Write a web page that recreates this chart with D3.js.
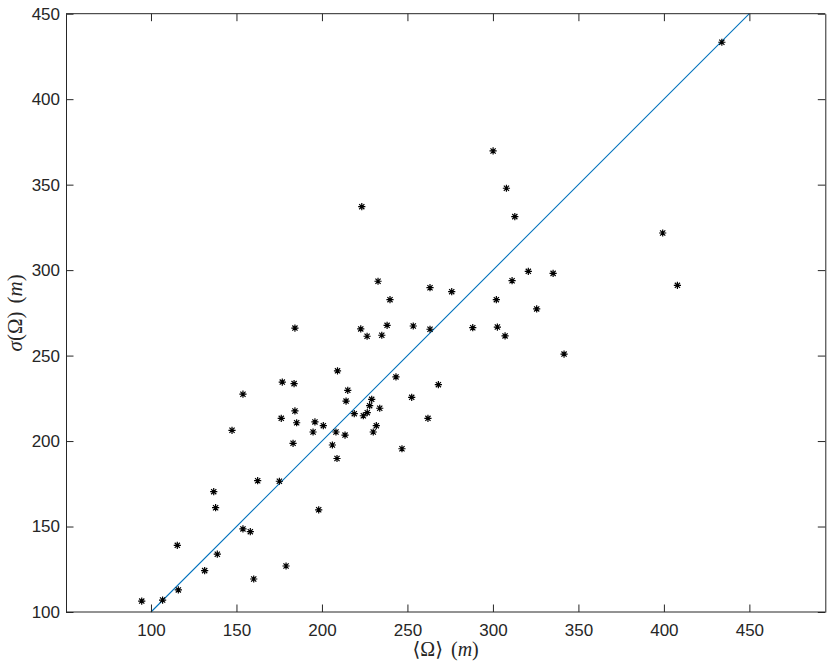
<!DOCTYPE html>
<html>
<head>
<meta charset="utf-8">
<script src="https://cdn.jsdelivr.net/npm/d3@7"></script>
<style>
  html, body { margin: 0; padding: 0; background: #fff; }
  svg { display: block; }
</style>
</head>
<body>
<svg id="chart" width="830" height="662"></svg>
<script>
// ---- data ----
const meanOmega = [
  94.6, 106.8, 116.0, 115.4, 131.4, 138.8, 136.7, 137.8, 153.8, 158.1,
  160.1, 162.4, 175.1, 179.0, 153.8, 147.4, 176.8, 183.7, 184.2, 176.2,
  185.2, 195.9, 200.8, 194.8, 208.2, 183.1, 206.1, 208.8, 198.1, 209.1,
  223.3, 232.8, 239.8, 184.2, 222.7, 238.1, 226.4, 235.0, 243.3, 300.1,
  307.9, 312.8, 320.7, 335.2, 311.2, 263.2, 275.9, 302.0, 325.6, 253.4,
  263.2, 288.2, 302.6, 307.1, 215.1, 214.1, 213.5, 218.9, 224.2, 226.5,
  227.9, 229.1, 233.8, 231.8, 230.0, 252.5, 268.1, 262.0, 246.8, 341.6,
  399.3, 407.9, 433.9
];
const sigmaOmega = [
  106.4, 107.0, 112.9, 139.0, 124.2, 133.8, 170.4, 161.0, 148.6, 147.0,
  119.3, 176.8, 176.5, 126.9, 227.4, 206.3, 234.5, 233.6, 217.6, 213.3,
  210.7, 211.2, 209.0, 205.3, 205.3, 198.7, 197.7, 189.8, 159.8, 241.1,
  337.1, 293.5, 282.7, 266.1, 265.6, 267.7, 261.3, 261.9, 237.5, 369.7,
  347.9, 331.3, 299.3, 298.1, 293.8, 289.7, 287.4, 282.7, 277.3, 267.3,
  265.4, 266.3, 266.7, 261.5, 229.7, 223.4, 203.5, 216.0, 214.8, 216.6,
  220.7, 224.4, 219.2, 209.0, 205.3, 225.6, 233.0, 213.3, 195.5, 250.9,
  321.7, 291.1, 433.3
];
const identityLine = [100, 450];
const xTicks = [100, 150, 200, 250, 300, 350, 400, 450];
const yTicks = [100, 150, 200, 250, 300, 350, 400, 450];
const xDomain = [50.3, 494.4];
const yDomain = [100, 450];

// ---- layout ----
const mLeft = 66, mRight = 825.3, mTop = 13.7, mBottom = 612;
const axisColor = "#262626";
const svg = d3.select("#chart");

const x = d3.scaleLinear().domain(xDomain).range([mLeft, mRight]);
const y = d3.scaleLinear().domain(yDomain).range([mBottom, mTop]);

// identity line
svg.append("line")
  .attr("x1", x(identityLine[0])).attr("y1", y(identityLine[0]))
  .attr("x2", x(identityLine[1])).attr("y2", y(identityLine[1]))
  .attr("stroke", "#0072BD").attr("stroke-width", 1.1);

// asterisk markers
const r = 3.6, d = r * 0.72;
const starPath = `M${-r},0L${r},0M0,${-r}L0,${r}M${-d},${-d}L${d},${d}M${-d},${d}L${d},${-d}`;
svg.append("g").selectAll("path")
  .data(meanOmega.map((v, i) => [v, sigmaOmega[i]]))
  .join("path")
  .attr("transform", p => `translate(${x(p[0])},${y(p[1])})`)
  .attr("d", starPath)
  .attr("stroke", "#000").attr("stroke-width", 1.2).attr("fill", "none");

// axes (ticks inward, box on)
const tickLen = 7.5;
const fontTicks = "'Liberation Sans', Arial, Helvetica, sans-serif";

const xAxisB = d3.axisBottom(x).tickValues(xTicks).tickSizeInner(-tickLen).tickSizeOuter(0).tickPadding(12);
const gxB = svg.append("g").attr("transform", `translate(0,${mBottom})`).call(xAxisB);
const xAxisT = d3.axisTop(x).tickValues(xTicks).tickSizeInner(-tickLen).tickSizeOuter(0).tickFormat("");
const gxT = svg.append("g").attr("transform", `translate(0,${mTop})`).call(xAxisT);
const yAxisL = d3.axisLeft(y).tickValues(yTicks).tickSizeInner(-tickLen).tickSizeOuter(0).tickPadding(6);
const gyL = svg.append("g").attr("transform", `translate(${mLeft},0)`).call(yAxisL);
const yAxisR = d3.axisRight(y).tickValues(yTicks).tickSizeInner(-tickLen).tickSizeOuter(0).tickFormat("");
const gyR = svg.append("g").attr("transform", `translate(${mRight},0)`).call(yAxisR);

[gxB, gxT, gyL, gyR].forEach(g => {
  g.select(".domain").attr("stroke", axisColor).attr("stroke-width", 1);
  g.selectAll(".tick line").attr("stroke", axisColor).attr("stroke-width", 1);
  g.selectAll(".tick text").attr("fill", axisColor)
    .style("font-family", fontTicks).style("font-size", "17px");
});
gxB.select(".domain").attr("d", `M${mLeft},0H${mRight}`);
gxT.select(".domain").attr("d", `M${mLeft},0H${mRight}`);

// axis labels
const serif = "'Liberation Serif', 'DejaVu Serif', 'Times New Roman', serif";
const xl = svg.append("text")
  .attr("x", (mLeft + mRight) / 2).attr("y", 656)
  .attr("text-anchor", "middle")
  .attr("fill", axisColor)
  .style("font-family", serif).style("font-size", "20px");
xl.append("tspan").text("\u27E8\u03A9\u27E9");
xl.append("tspan").attr("dx", 8).text("(");
xl.append("tspan").style("font-style", "italic").text("m");
xl.append("tspan").text(")");

const yl = svg.append("text")
  .attr("transform", `translate(22,${(mTop + mBottom) / 2}) rotate(-90)`)
  .attr("text-anchor", "middle")
  .attr("fill", axisColor)
  .style("font-family", serif).style("font-size", "21px");
yl.append("tspan").style("font-style", "italic").text("\u03C3");
yl.append("tspan").text("(\u03A9)");
yl.append("tspan").attr("dx", 8).text("(");
yl.append("tspan").style("font-style", "italic").text("m");
yl.append("tspan").text(")");
</script>
</body>
</html>
